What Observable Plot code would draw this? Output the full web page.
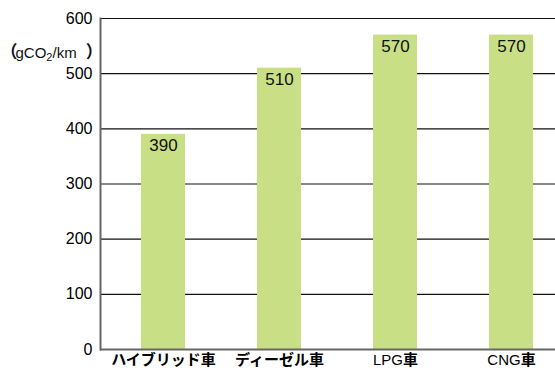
<!DOCTYPE html>
<html>
<head>
<meta charset="utf-8">
<script src="https://cdn.jsdelivr.net/npm/d3@7"></script>
<script src="https://cdn.jsdelivr.net/npm/@observablehq/plot@0.6"></script>
<style>
  html, body { margin: 0; padding: 0; background: #fff; }
</style>
</head>
<body>
<div id="chart"></div>
<script>
const categories = ["ハイブリッド車", "ディーゼル車", "LPG車", "CNG車"];
const values = [390, 510, 570, 570];
const yTicks = [0, 100, 200, 300, 400, 500, 600];
const unitLabel = "（gCO2/km ）";

const data = categories.map((c, i) => ({cat: c, value: values[i]}));

const chart = Plot.plot({
  width: 555,
  height: 373,
  marginLeft: 100,
  marginRight: 0,
  marginTop: 18,
  marginBottom: 24,
  style: {fontFamily: "'Liberation Sans', Arial, 'Noto Sans CJK JP', sans-serif", fontSize: "16px", color: "#000", background: "#fff"},
  x: {domain: categories, paddingInner: 0.62, paddingOuter: 0.27, align: 0.65, label: null},
  y: {domain: [0, 600], ticks: yTicks, label: null},
  marks: [
    Plot.ruleY(yTicks, {stroke: "#111", strokeWidth: 1.2}),
    Plot.barY(data, {x: "cat", y: "value", fill: "#c9df86"}),
    Plot.text(data, {x: "cat", y: "value", text: d => String(d.value), lineAnchor: "top", dy: 5, fontSize: 17, fill: "#111"}),
    Plot.axisY({ticks: yTicks, tickSize: 0, tickPadding: 8, fontSize: 16, label: null}),
    Plot.axisX({tickSize: 0, tickPadding: 5, fontSize: 15, label: null, fontFamily: "'Liberation Sans', 'Noto Sans CJK JP', sans-serif"}),
    Plot.frame({anchor: "left", stroke: "#666", strokeWidth: 2}),
    Plot.ruleY([0], {stroke: "#666", strokeWidth: 2}),
    Plot.text([unitLabel], {frameAnchor: "top-left", textAnchor: "start", dx: -100, dy: 27, fontSize: 17, fill: "#111"})
  ]
});

document.getElementById("chart").appendChild(chart);

// Latin part of x labels regular, Japanese part bold
d3.select(chart).selectAll("[aria-label='x-axis tick label'] text").each(function() {
  const t = d3.select(this);
  const s = t.text();
  t.text(null);
  const parts = s.match(/[A-Za-z0-9]+|[^A-Za-z0-9]+/g) || [];
  parts.forEach(p => {
    t.append("tspan").attr("font-weight", /^[A-Za-z0-9]+$/.test(p) ? "normal" : "bold").text(p);
  });
});

// fullwidth parens and subscript "2" in the unit label
d3.select(chart).selectAll("text").filter(function() { return this.textContent === unitLabel; }).each(function() {
  const t = d3.select(this);
  const s = t.text();
  const i = s.indexOf("2");
  const cjk = "'Noto Sans CJK JP', sans-serif";
  t.text(null);
  t.append("tspan").attr("font-family", cjk).attr("font-weight", "bold").text(s.slice(0, 1));
  t.append("tspan").attr("font-size", 15).attr("dx", -2).text(s.slice(1, i));
  t.append("tspan").attr("font-size", 11).attr("dy", 3).text("2");
  t.append("tspan").attr("font-size", 15).attr("dy", -3).text(s.slice(i + 1, s.length - 1));
  t.append("tspan").attr("font-family", cjk).attr("font-weight", "bold").attr("dx", 5).text(s.slice(s.length - 1));
});
</script>
</body>
</html>
